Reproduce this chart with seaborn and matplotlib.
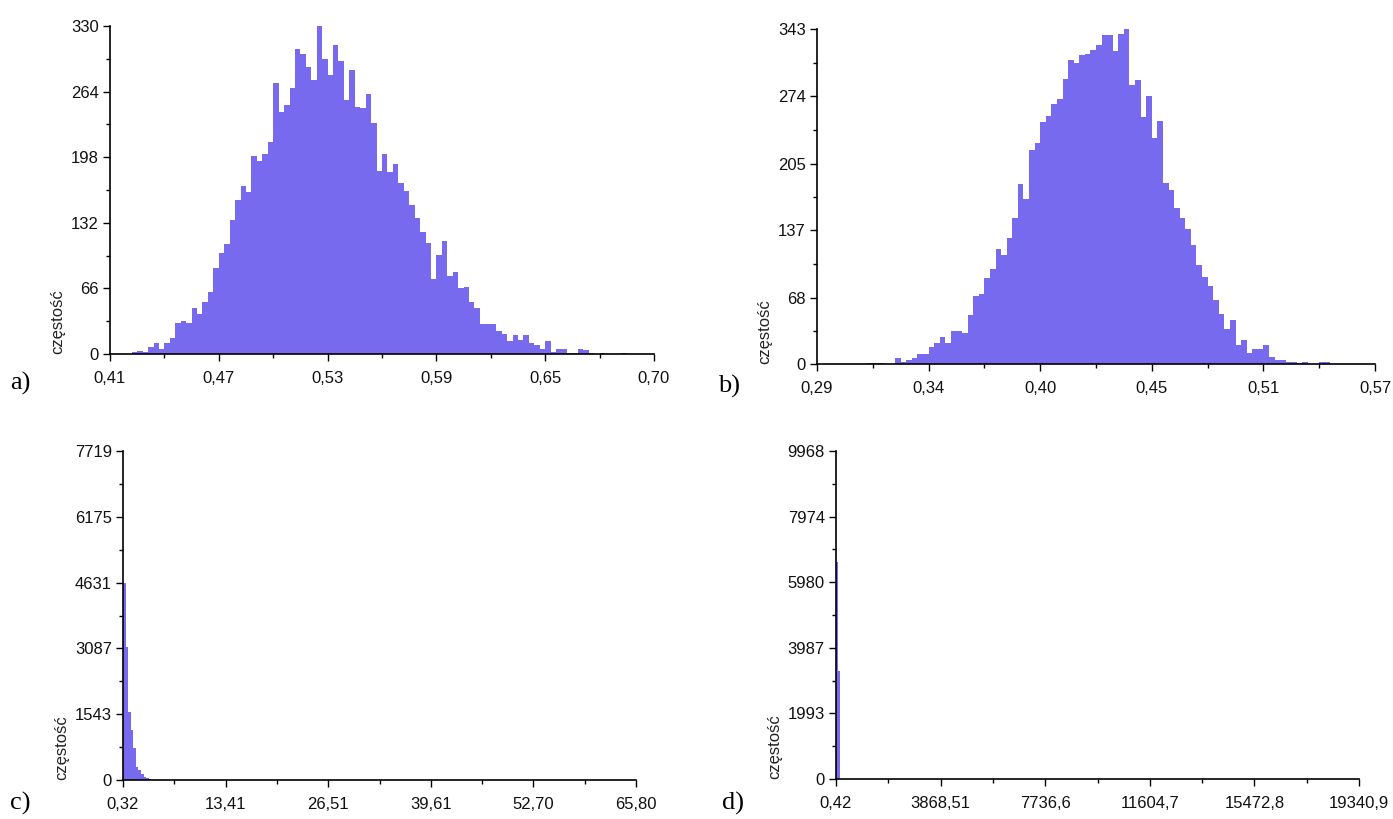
import numpy as np
import pandas as pd
import matplotlib
matplotlib.use("Agg")
import matplotlib.pyplot as plt
import seaborn as sns

# Bin counts of the four histograms (leading empty bins included)
counts_a = [0, 0, 0, 0,
            2, 3, 2, 7, 11, 5, 11, 16, 31, 33, 31, 46, 40, 52, 62, 87, 102, 111, 135, 155,
            169, 163, 199, 194, 201, 213, 273, 243, 251, 268, 307, 302, 289, 276, 330, 297,
            281, 311, 295, 256, 286, 249, 247, 262, 232, 184, 201, 183, 191, 172, 164, 150,
            137, 123, 112, 75, 100, 114, 78, 82, 66, 67, 52, 46, 30, 30, 30, 23, 20, 13, 19,
            14, 19, 11, 9, 5, 13, 2, 5, 5, 1, 1, 5, 4, 1, 0, 1, 0, 0, 0, 1]
counts_b = [0, 0, 0, 0, 0, 0, 0, 0, 0,
            1, 1, 1, 0, 0, 6, 2, 4, 6, 10, 10, 17, 22, 28, 22, 34, 34, 32, 50, 70, 72, 88,
            97, 118, 112, 129, 149, 184, 169, 219, 226, 248, 254, 266, 271, 292, 311, 308,
            316, 317, 321, 327, 337, 337, 320, 338, 343, 286, 291, 253, 274, 231, 249, 185,
            178, 160, 149, 138, 122, 101, 89, 80, 66, 51, 36, 45, 19, 25, 11, 15, 15, 19, 7,
            4, 4, 2, 2, 1, 2, 0, 0, 2, 2]
counts_c = [4615, 3110, 1600, 1170, 745, 300, 235, 135, 80, 40, 20]
counts_d = [6600, 3270]

n_bins = [100, 100, 200, 250]

# Axis ranges (first and last tick value)
x_range_a = (0.4135, 0.7035)
x_range_b = (0.288, 0.5655)
x_range_c = (0.32, 65.80)
x_range_d = (0.42, 19340.9)

xlabels_a = ["0,41", "0,47", "0,53", "0,59", "0,65", "0,70"]
xlabels_b = ["0,29", "0,34", "0,40", "0,45", "0,51", "0,57"]
xlabels_c = ["0,32", "13,41", "26,51", "39,61", "52,70", "65,80"]
xlabels_d = ["0,42", "3868,51", "7736,6", "11604,7", "15472,8", "19340,9"]

yticks_a = [0, 66, 132, 198, 264, 330]
yticks_b = [0, 68, 137, 205, 274, 343]
yticks_c = [0, 1543, 3087, 4631, 6175, 7719]
yticks_d = [0, 1993, 3987, 5980, 7974, 9968]

panel_letters = ["a)", "b)", "c)", "d)"]
ylabel_text = "częstość"

BAR_COLOR = "#786AEE"

sns.set_style("white")
plt.rcParams["font.family"] = ["Liberation Sans", "DejaVu Sans"]

W, H = 1393, 819
fig = plt.figure(figsize=(W / 100, H / 100), dpi=100)

# axes boxes in pixels: left, right, top, bottom
boxes = [(110, 654, 26, 354), (817, 1375, 29, 364),
         (123, 636, 451, 780), (836, 1359, 451, 779)]
letter_pos = [(10, 383), (718, 386), (10, 803), (722, 803)]

panels = [
    (counts_a, x_range_a, xlabels_a, yticks_a),
    (counts_b, x_range_b, xlabels_b, yticks_b),
    (counts_c, x_range_c, xlabels_c, yticks_c),
    (counts_d, x_range_d, xlabels_d, yticks_d),
]

for i, (counts, (lo, hi), xlabels, yticks) in enumerate(panels):
    l, r, t, b = boxes[i]
    ax = fig.add_axes([l / W, 1 - b / H, (r - l) / W, (b - t) / H])
    nb = n_bins[i]
    edges = np.linspace(lo, hi, nb + 1)
    centers = (edges[:-1] + edges[1:]) / 2
    weights = np.zeros(nb)
    weights[:len(counts)] = counts
    df = pd.DataFrame({"value": centers, "count": weights})
    sns.histplot(data=df, x="value", weights="count", bins=nb, binrange=(lo, hi),
                 ax=ax, color=BAR_COLOR, alpha=1.0, linewidth=0, element="bars",
                 fill=True)

    ax.set_xlim(lo, hi)
    ax.set_ylim(0, yticks[-1])
    xt = np.linspace(lo, hi, 6)
    ax.set_xticks(xt)
    ax.set_xticklabels(xlabels)
    ax.set_xticks((xt[:-1] + xt[1:]) / 2, minor=True)
    yt = np.array(yticks, dtype=float)
    ax.set_yticks(yt)
    ax.set_yticklabels([str(v) for v in yticks])
    ax.set_yticks((yt[:-1] + yt[1:]) / 2, minor=True)

    ax.tick_params(axis="both", which="major", direction="out", length=5, width=1,
                   color="black", labelsize=12, labelcolor="#111111", pad=3,
                   bottom=True, left=True)
    ax.tick_params(axis="both", which="minor", direction="out", length=3, width=1,
                   color="black", bottom=True, left=True)
    ax.tick_params(axis="x", which="major", pad=7)

    sns.despine(ax=ax)
    for side in ("left", "bottom"):
        ax.spines[side].set_color("black")
        ax.spines[side].set_linewidth(1.2)

    ax.set_xlabel("")
    ax.set_ylabel(ylabel_text, loc="bottom", fontsize=12, color="#222222", labelpad=4)
    ax.grid(False)

    lx, ly = letter_pos[i]
    fig.text(lx / W, 1 - ly / H, panel_letters[i], family=["Liberation Serif"],
             fontsize=19, va="center", ha="left", color="black")

fig.savefig("out.png", dpi=100, facecolor="white")
